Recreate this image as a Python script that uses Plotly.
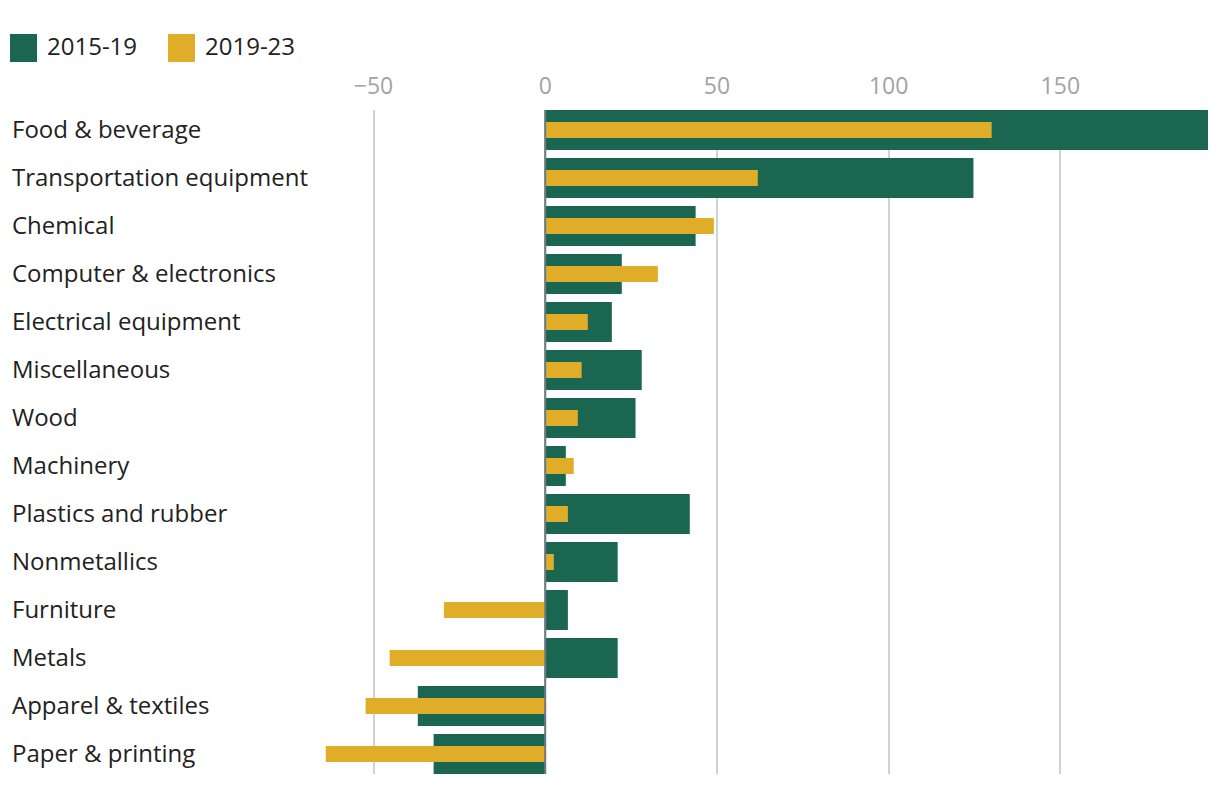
import plotly.graph_objects as go

categories = ["Food & beverage", "Transportation equipment", "Chemical", "Computer & electronics",
              "Electrical equipment", "Miscellaneous", "Wood", "Machinery", "Plastics and rubber",
              "Nonmetallics", "Furniture", "Metals", "Apparel & textiles", "Paper & printing"]
series_names = ["2015-19", "2019-23"]
v_2015_19 = [193, 124.7, 43.8, 22.3, 19.4, 28.1, 26.3, 6.0, 42.1, 21.1, 6.6, 21.1, -37.1, -32.5]
v_2019_23 = [130.0, 61.9, 49.1, 32.8, 12.4, 10.6, 9.5, 8.3, 6.6, 2.5, -29.5, -45.3, -52.3, -63.9]
tick_vals = [-50, 0, 50, 100, 150]

GREEN = "#1b6650"
YELLOW = "#e0ad29"
FONT = "Open Sans"

W, H = 1220, 786
OFF = 8  # page body margin
ML, MT = 322 - OFF, 110 - OFF
MR = W - (1208 - OFF)
MB = H - (774 - OFF)
PW, PH = W - ML - MR, H - MT - MB

fig = go.Figure()
fig.add_trace(go.Bar(y=categories, x=v_2015_19, orientation="h", name=series_names[0],
                     marker=dict(color=GREEN, line=dict(width=0)), width=0.8333))
fig.add_trace(go.Bar(y=categories, x=v_2019_23, orientation="h", name=series_names[1],
                     marker=dict(color=YELLOW, line=dict(width=0)), width=0.3333))


def px(x):
    return (x - OFF - ML) / PW


def py(y):
    return (H - MB - (y - OFF)) / PH


# category labels, left aligned
for c in categories:
    fig.add_annotation(x=px(12), xref="paper", y=c, yref="y", text=c, showarrow=False,
                       xanchor="left", yanchor="middle", xshift=-2, yshift=2,
                       font=dict(family=FONT, size=24, color="#222222"))

# legend
for i, (name, col) in enumerate(zip(series_names, [GREEN, YELLOW])):
    x0 = 10 + i * 158
    fig.add_shape(type="rect", xref="paper", yref="paper", x0=px(x0), x1=px(x0 + 27),
                  y0=py(62), y1=py(34), fillcolor=col, line=dict(width=0))
    fig.add_annotation(x=px(x0 + 37), xref="paper", y=py(47), yref="paper", text=name, showarrow=False,
                       xanchor="left", yanchor="middle", xshift=-2, yshift=1,
                       font=dict(family=FONT, size=24, color="#222222"))

# zero line on top of bars
fig.add_shape(type="line", xref="x", yref="paper", x0=0, x1=0, y0=0, y1=1,
              line=dict(color="#6c787e", width=2), layer="above")

fig.update_layout(
    width=W, height=H, margin=dict(l=ML, r=MR, t=MT, b=MB),
    barmode="overlay", showlegend=False,
    plot_bgcolor="white", paper_bgcolor="white",
    font=dict(family=FONT),
    xaxis=dict(side="top", range=[-65, 193], tickvals=tick_vals, showgrid=True,
               gridcolor="#d2d2d2", gridwidth=2, zeroline=False, showline=False, ticks="",
               ticklabelstandoff=10,
               tickfont=dict(family=FONT, size=23, color="#a3a3a3"), fixedrange=True),
    yaxis=dict(range=[13.4167, -0.4167], showticklabels=False, showgrid=False, zeroline=False,
               showline=False, ticks="", fixedrange=True),
)

fig.write_html("out.html")
